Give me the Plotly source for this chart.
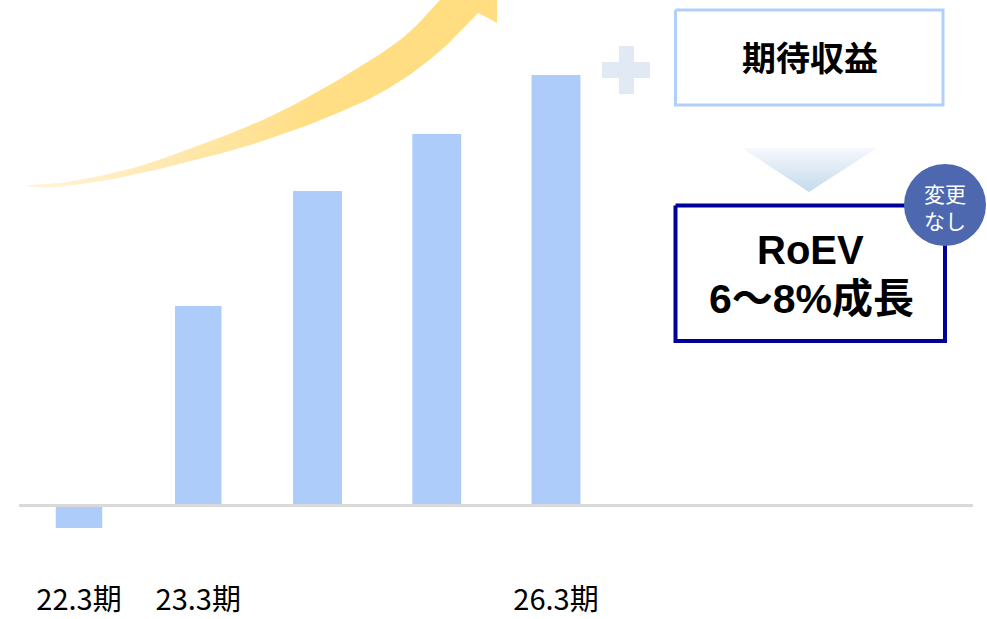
import plotly.graph_objects as go

# Data
categories = ["22.3期", "23.3期", "24.3期", "25.3期", "26.3期"]
tick_labels = ["22.3期", "23.3期", "", "", "26.3期"]
values = [-23, 199, 314, 371, 430]
widths = [0.39, 0.39, 0.41, 0.41, 0.41]

W, H = 987, 619
BOTTOM = 39
BASE_PX = 505
STEP = 119.25
FIRST_PX = 79

BAR = "#ADCCF9"
CJK = "Noto Sans CJK JP"
BOLD = "Liberation Sans, Noto Sans CJK JP"

fig = go.Figure()

fig.add_trace(go.Bar(
    x=list(range(len(categories))), y=values, width=widths,
    marker=dict(color=BAR, line=dict(width=0)),
    hoverinfo="skip", showlegend=False,
))

def deco(xs, ys, **kw):
    fig.add_trace(go.Scatter(x=xs, y=ys, xaxis="x2", yaxis="y2", mode="lines",
                             hoverinfo="skip", showlegend=False, **kw))

def smooth(xs, ys, n=12):
    """Catmull-Rom smoothing of an outline edge."""
    px = [xs[0]] + list(xs) + [xs[-1]]
    py = [ys[0]] + list(ys) + [ys[-1]]
    ox, oy = [], []
    for i in range(1, len(px) - 2):
        for k in range(n):
            t = k / n
            def cr(a, b, c, d):
                return 0.5 * (2*b + (c-a)*t + (2*a-5*b+4*c-d)*t*t + (3*b-a-3*c+d)*t*t*t)
            ox.append(cr(px[i-1], px[i], px[i+1], px[i+2]))
            oy.append(cr(py[i-1], py[i], py[i+1], py[i+2]))
    ox.append(xs[-1]); oy.append(ys[-1])
    return ox, oy

# baseline
deco([19, 973], [505.5, 505.5], line=dict(color="#D9D9D9", width=3))

# rising arrow
upper_x = [24, 67, 133, 200, 267, 333, 400, 440]
upper_y = [185.5, 182, 168, 145, 118, 83, 40, 0]
lower_x = [478, 455, 433, 405, 375, 340, 300, 233, 133, 67, 40, 24]
lower_y = [13, 37, 57, 78, 96, 112, 128, 150, 175, 186, 187.5, 185.5]
ux, uy = smooth(upper_x, upper_y)
lx, ly = smooth(lower_x, lower_y)
arrow_x = ux + [497, 497, 488] + lx
arrow_y = uy + [0, 23, 18] + ly
deco(arrow_x, arrow_y, fill="toself", line=dict(width=0),
     fillgradient=dict(type="horizontal",
                       colorscale=[[0, "#FFF5DC"], [0.25, "#FFEBB8"], [0.6, "#FFDE85"], [1, "#FFDD80"]]))

# plus sign
deco([619, 634, 634, 650, 650, 634, 634, 619, 619, 602, 602, 619, 619],
     [46, 46, 62, 62, 78, 78, 94, 94, 78, 78, 62, 62, 46],
     fill="toself", fillcolor="#E1EAF4", line=dict(width=0))

# top box
deco([675.5, 943, 943, 675.5, 675.5], [10, 10, 105, 105, 10],
     fill="toself", fillcolor="white", line=dict(color="#B0CFFB", width=3))

# gradient triangle
deco([742, 877, 809, 742], [148, 148, 192, 148], fill="toself", line=dict(width=0),
     fillgradient=dict(type="vertical",
                       colorscale=[[0, "#C3DAEB"], [1, "#F6F8FD"]]))

# bottom box
deco([675.5, 945, 945, 675.5, 675.5], [205.5, 205.5, 341, 341, 205.5],
     fill="toself", fillcolor="white", line=dict(color="#000099", width=4))

def text(x, y, s, size, color="black", family=CJK, bold=False):
    fig.add_annotation(x=x, y=y, xref="x2", yref="y2", text=f"<b>{s}</b>" if bold else s,
                       showarrow=False, xanchor="center", yanchor="middle",
                       font=dict(size=size, color=color, family=family))

text(810, 59, "期待収益", 34, bold=True, family=BOLD)
text(810, 250, "RoEV", 40, bold=True, family=BOLD)
text(811, 299, "6～8%成長", 41, bold=True, family=BOLD)
text(945, 206, "変更<br>なし", 21, color="white")

fig.update_layout(
    width=W, height=H,
    margin=dict(l=0, r=0, t=0, b=BOTTOM, pad=0),
    paper_bgcolor="white", plot_bgcolor="white",
    barmode="overlay",
    shapes=[dict(type="circle", xref="x2", yref="y2", x0=904, x1=986, y0=164, y1=246,
                 fillcolor="#4D68AE", line=dict(width=0), layer="above")],
    xaxis=dict(range=[-FIRST_PX / STEP, (W - FIRST_PX) / STEP], tickmode="array",
               tickvals=list(range(len(categories))), ticktext=tick_labels,
               showgrid=False, zeroline=False, showline=False, ticks="", automargin=False,
               tickfont=dict(size=29, color="black", family=CJK), fixedrange=True),
    yaxis=dict(range=[-(H - BOTTOM - BASE_PX), BASE_PX], visible=False, fixedrange=True),
    xaxis2=dict(range=[0, W], overlaying="x", visible=False, fixedrange=True),
    yaxis2=dict(range=[H - BOTTOM, 0], overlaying="y", visible=False, fixedrange=True),
)

fig.write_html("out.html", config=dict(displayModeBar=False),
               post_script="document.body.style.margin='0';")
